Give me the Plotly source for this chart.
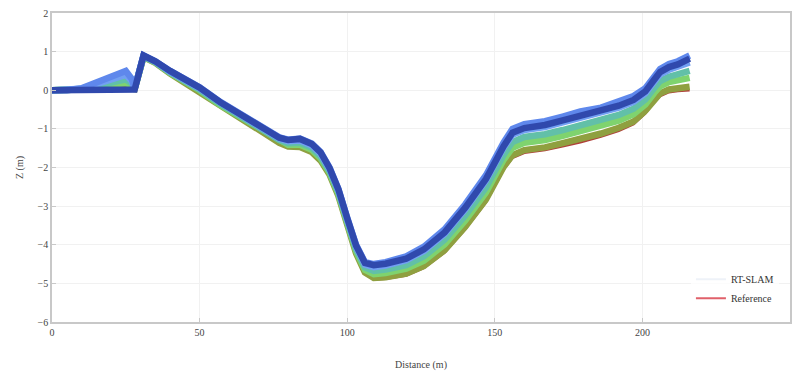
import plotly.graph_objects as go

distance = [0, 5, 10, 15, 20, 25, 27, 28, 31, 35, 40, 45, 50, 57, 65, 72, 77, 80, 84, 88, 91, 94, 97,
            100, 103, 106, 109, 113, 120, 126, 133, 140, 147, 153, 156, 160, 167, 173, 179, 186, 192,
            197, 201, 204, 206, 209, 212, 216]

reference_z = [0, 0, 0, 0, 0, 0.02, 0.03, 0.03, 0.85, 0.7, 0.42, 0.18, -0.05, -0.42, -0.8, -1.12, -1.38,
               -1.48, -1.5, -1.62, -1.85, -2.2, -2.75, -3.5, -4.25, -4.75, -4.9, -4.88, -4.8, -4.6, -4.2,
               -3.6, -2.9, -2.05, -1.75, -1.62, -1.55, -1.45, -1.35, -1.2, -1.05, -0.88, -0.6, -0.3,
               -0.15, -0.05, -0.02, 0.0]

run_olive = [0, 0, 0.01, 0.02, 0.04, 0.07, 0.06, 0.03, 0.86, 0.71, 0.43, 0.19, -0.04, -0.41, -0.78, -1.1,
             -1.36, -1.46, -1.47, -1.6, -1.82, -2.18, -2.73, -3.48, -4.22, -4.72, -4.86, -4.84, -4.75,
             -4.55, -4.14, -3.53, -2.83, -1.98, -1.68, -1.55, -1.48, -1.37, -1.27, -1.12, -0.97, -0.81,
             -0.53, -0.23, -0.08, 0.02, 0.06, 0.09]

run_green = [0, 0, 0.02, 0.07, 0.13, 0.19, 0.12, 0.04, 0.87, 0.72, 0.45, 0.22, 0.0, -0.38, -0.75, -1.07,
             -1.32, -1.41, -1.41, -1.54, -1.76, -2.13, -2.68, -3.43, -4.16, -4.65, -4.76, -4.73, -4.62,
             -4.41, -3.99, -3.37, -2.65, -1.8, -1.49, -1.36, -1.29, -1.18, -1.07, -0.94, -0.79, -0.62,
             -0.37, -0.07, 0.1, 0.21, 0.25, 0.32]

run_teal = [0, 0, 0.03, 0.11, 0.21, 0.28, 0.18, 0.04, 0.88, 0.73, 0.46, 0.24, 0.02, -0.35, -0.72, -1.04,
            -1.29, -1.37, -1.36, -1.49, -1.71, -2.09, -2.64, -3.39, -4.11, -4.59, -4.68, -4.64, -4.53,
            -4.3, -3.87, -3.24, -2.52, -1.67, -1.34, -1.21, -1.14, -1.03, -0.91, -0.79, -0.64, -0.48,
            -0.24, 0.06, 0.24, 0.35, 0.4, 0.5]

run_lightblue = [0, 0, 0.04, 0.16, 0.3, 0.4, 0.24, 0.05, 0.89, 0.74, 0.48, 0.26, 0.05, -0.32, -0.68, -1.01,
                 -1.25, -1.32, -1.3, -1.43, -1.65, -2.04, -2.59, -3.34, -4.05, -4.51, -4.58, -4.54, -4.4,
                 -4.16, -3.72, -3.08, -2.34, -1.49, -1.15, -1.03, -0.95, -0.83, -0.71, -0.6, -0.45, -0.3,
                 -0.08, 0.22, 0.41, 0.53, 0.6, 0.72]

run_navy = [0, 0, 0, 0.01, 0.02, 0.04, 0.04, 0.02, 0.9, 0.75, 0.5, 0.27, 0.07, -0.31, -0.66, -0.99, -1.23,
            -1.29, -1.26, -1.39, -1.61, -2.01, -2.56, -3.31, -4.02, -4.47, -4.53, -4.49, -4.36, -4.12,
            -3.68, -3.04, -2.3, -1.45, -1.1, -0.98, -0.9, -0.78, -0.66, -0.55, -0.4, -0.25, -0.03, 0.27,
            0.47, 0.6, 0.67, 0.82]

run_top = [0, 0, 0.05, 0.2, 0.38, 0.5, 0.3, 0.05, 0.9, 0.75, 0.5, 0.28, 0.08, -0.3, -0.65, -0.98, -1.22,
           -1.28, -1.25, -1.38, -1.6, -2.0, -2.55, -3.3, -4.0, -4.45, -4.5, -4.45, -4.3, -4.05, -3.6,
           -2.95, -2.2, -1.35, -1.0, -0.88, -0.8, -0.68, -0.55, -0.45, -0.3, -0.15, 0.05, 0.35, 0.55,
           0.68, 0.75, 0.9]

x_ticks = [0, 50, 100, 150, 200, 250]
y_ticks = [-6, -5, -4, -3, -2, -1, 0, 1, 2]

runs = [
    (run_olive, "#8fa040"),
    (run_green, "#7fd36e"),
    (run_teal, "#62c0a8"),
    (run_lightblue, "#72a0f2"),
    (run_top, "#5f88ec"),
    (run_navy, "#3049ad"),
]

fig = go.Figure()
fig.add_trace(go.Scatter(x=distance, y=reference_z, mode="lines",
                         line=dict(color="#b0403a", width=2.5), showlegend=False))
for vals, col in runs:
    fig.add_trace(go.Scatter(x=distance, y=vals, mode="lines",
                             line=dict(color=col, width=6.5), showlegend=False))
# legend entries
fig.add_trace(go.Scatter(x=[None], y=[None], mode="lines", name="RT-SLAM",
                         line=dict(color="#eef2f8", width=2)))
fig.add_trace(go.Scatter(x=[None], y=[None], mode="lines", name="Reference",
                         line=dict(color="#e0606a", width=2)))

font_fam = "Liberation Serif"
fig.update_layout(
    width=796, height=374,
    margin=dict(l=52, r=6, t=13, b=52, autoexpand=False),
    paper_bgcolor="white", plot_bgcolor="white",
    font=dict(family=font_fam, size=10, color="#444"),
    legend=dict(x=0.985, y=0.03, xanchor="right", yanchor="bottom",
                bgcolor="rgba(255,255,255,0.8)", font=dict(family=font_fam, size=10, color="#333"),
                tracegroupgap=0),
    xaxis=dict(range=[0, 250], tickvals=x_ticks, automargin=False,
               title=dict(text="Distance (m)", standoff=24, font=dict(family=font_fam, size=10)),
               tickfont=dict(family=font_fam, size=10),
               showline=True, linecolor="#c8c8c8", linewidth=1.5, mirror=True,
               showgrid=True, gridcolor="#f1f1f1", zeroline=False,
               ticks="inside", ticklen=4, tickcolor="#c8c8c8"),
    yaxis=dict(range=[-6, 2], tickvals=y_ticks, automargin=False,
               title=dict(text="Z (m)", standoff=12, font=dict(family=font_fam, size=10)),
               tickfont=dict(family=font_fam, size=10),
               showline=True, linecolor="#c8c8c8", linewidth=1.5, mirror=True,
               showgrid=True, gridcolor="#f1f1f1", zeroline=False,
               ticks="inside", ticklen=4, tickcolor="#c8c8c8"),
)

fig.write_html("out.html", config={"displayModeBar": False},
               post_script="document.body.style.margin='0';document.body.style.overflow='hidden';")
